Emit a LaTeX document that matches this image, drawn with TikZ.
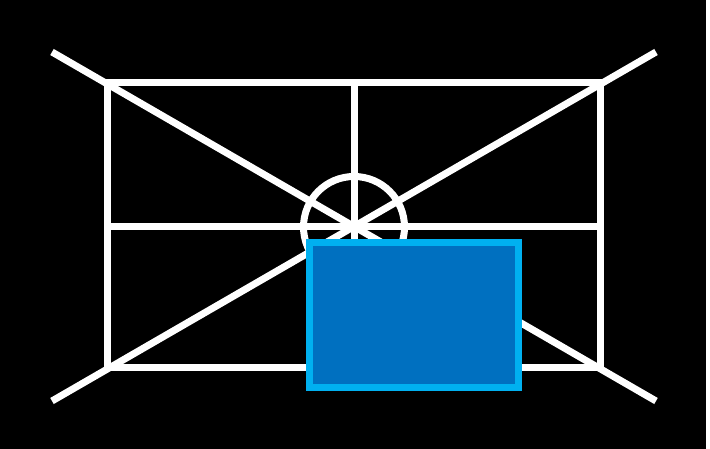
\documentclass[tikz,border=0pt]{standalone}
\begin{document}
\begin{tikzpicture}[x=1pt,y=-1pt,
  wline/.style={draw=white,line width=7pt},
  bluebox/.style={draw=boxedge,fill=boxfill,line width=7pt}]
\definecolor{boxedge}{HTML}{00B0F0}
\definecolor{boxfill}{HTML}{0070C0}
\useasboundingbox (0,0) rectangle (710,449);
\fill[white] (0,0) rectangle (710,449);
\fill[black] (0,0) rectangle (706,449);
\coordinate (tl) at (107,83);
\coordinate (br) at (600,367);
\coordinate (d1a) at (52,52);
\coordinate (d1b) at (656,401);
\coordinate (d2a) at (52,401);
\coordinate (d2b) at (656,52);
\coordinate (vt) at (354,83);
\coordinate (vb) at (354,367);
\coordinate (hl) at (107,227);
\coordinate (hr) at (600,227);
\coordinate (c) at (354,227);
\draw[wline] (tl) rectangle (br);
\draw[wline] (d1a) -- (d1b);
\draw[wline] (d2a) -- (d2b);
\draw[wline] (vt) -- (vb);
\draw[wline] (hl) -- (hr);
\draw[wline] (c) circle (50.5);
\draw[bluebox] (309.5,242.5) rectangle (518.5,387.5);
\end{tikzpicture}
\end{document}
